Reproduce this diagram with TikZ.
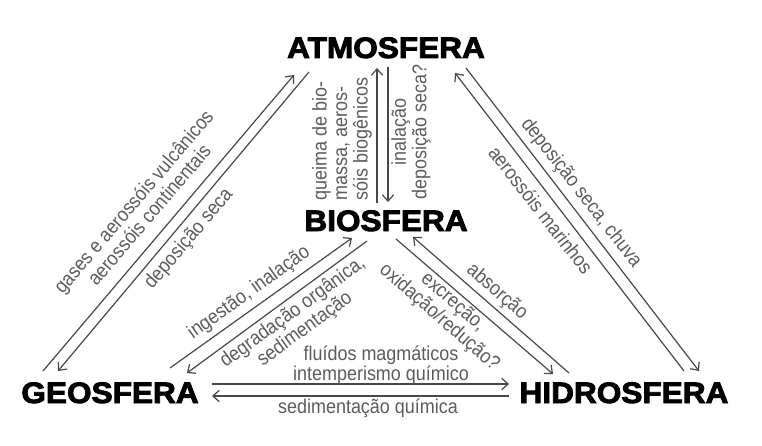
\documentclass[tikz,border=0pt]{standalone}
\usepackage{fontspec}
\setmainfont{Liberation Sans}
\newfontfamily\headfont[FakeStretch=1.07,FakeBold=3]{Liberation Sans Bold}
\newfontfamily\lblfont[FakeStretch=0.9]{Liberation Sans}
\usepackage{tikz}
\usetikzlibrary{arrows.meta}

\begin{document}
\begin{tikzpicture}[x=0.025cm,y=-0.025cm,>={Straight Barb[length=4.5pt,width=8pt]},
  sphere/.style={font=\headfont\fontsize{21}{24}\selectfont,inner sep=0pt,anchor=base},
  lbl/.style={font=\lblfont\fontsize{14.2}{14.6}\selectfont,text=black!64,inner sep=0pt,align=center},
  flow/.style={->,draw=black!72,line width=0.85pt}]
\useasboundingbox (0,0) rectangle (762,446);

% Spheres
\node[sphere] (atm) at (386,58) {ATMOSFERA};
\node[sphere] (bio) at (386,231) {BIOSFERA};
\node[sphere] (geo) at (110,403) {GEOSFERA};
\node[sphere] (hid) at (624,403) {HIDROSFERA};

% === Arrow ends ===
\coordinate (ga1) at (43,371);  \coordinate (ga2) at (294,75);
\coordinate (ag1) at (309,72);  \coordinate (ag2) at (58,371);
\coordinate (ba1) at (377,203); \coordinate (ba2) at (377,68);
\coordinate (ab1) at (388,67);  \coordinate (ab2) at (388,202);
\coordinate (ha1) at (684,371); \coordinate (ha2) at (455,73);
\coordinate (ah1) at (466,68);  \coordinate (ah2) at (699,371);
\coordinate (gb1) at (170,368); \coordinate (gb2) at (352,238);
\coordinate (bg1) at (367,241); \coordinate (bg2) at (187,373);
\coordinate (hb1) at (569,373); \coordinate (hb2) at (413,237);
\coordinate (bh1) at (396,239); \coordinate (bh2) at (553,374);
\coordinate (gh1) at (212,384); \coordinate (gh2) at (509,384);
\coordinate (hg1) at (509,396); \coordinate (hg2) at (212,396);

% === Flows ===
\foreach \a/\b in {ga1/ga2,ag1/ag2,ba1/ba2,ab1/ab2,ha1/ha2,ah1/ah2,
  gb1/gb2,bg1/bg2,hb1/hb2,bh1/bh2,gh1/gh2,hg1/hg2}
\draw[flow] (\a) -- (\b);

% Labels
\node[lbl,rotate=49.5] (gases) at (141,208) {gases e aerossóis vulcânicos\\aerossóis continentais};
\node[lbl,rotate=49.5] (depga) at (189,239) {deposição seca};
\node[lbl,rotate=90,align=left] (queima) at (342,139) {queima de bio-\\massa, aeros-\\sóis biogênicos};
\node[lbl,rotate=90] (inal) at (411,132) {inalação\\deposição seca?};
\node[lbl,rotate=-52] (depah) at (581,193) {deposição seca, chuva};
\node[lbl,rotate=-52] (marin) at (541,210) {aerossóis marinhos};
\node[lbl,rotate=35.5] (ingest) at (249,293) {ingestão, inalação};
\node[lbl,rotate=36] (degrad) at (299,321) {degradação orgânica,\\sedimentação};
\node[lbl,rotate=-41] (absor) at (497,292) {absorção};
\node[lbl,rotate=-41] (excre) at (446,310) {excreção,\\oxidação/redução?};
\node[lbl] (fluid) at (381,365) {fluídos magmáticos\\intemperismo químico};
\node[lbl] (sedim) at (368,408) {sedimentação química};
\end{tikzpicture}
\end{document}
